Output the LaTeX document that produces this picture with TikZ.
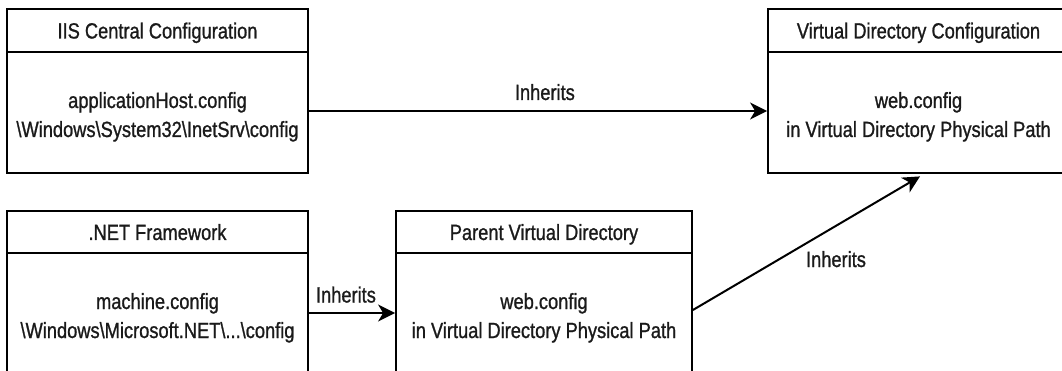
\documentclass[tikz,border=0pt]{standalone}
\usepackage{fontspec}
\setmainfont{Liberation Sans}[FakeStretch=0.83,FakeBold=1]
\usetikzlibrary{arrows.meta}
\definecolor{ink}{HTML}{1A1A1A}
\tikzset{
  head/.style={draw, line width=1.8pt, minimum height=43pt, inner sep=0pt,
    text height=16pt, text depth=0pt, text=ink, font=\fontsize{22}{29}\selectfont},
  body/.style={draw, line width=1.8pt, inner sep=0pt},
  txt/.style={anchor=base, inner sep=0pt, text=ink, font=\fontsize{22}{29}\selectfont},
  conn/.style={line width=2pt, -{Stealth[length=17pt,width=17pt,inset=5pt]}},
}
\begin{document}
\begin{tikzpicture}[x=1pt,y=-1pt]
\useasboundingbox (0,0) rectangle (1062,371);
\clip (0,0) rectangle (1062,371);
% IIS Central Configuration
\node[head, minimum width=301pt] (iish) at (157.5,30.5) {IIS Central Configuration};
\node[body, minimum width=301pt, minimum height=121pt] (iisb) at (157.5,112.5) {};
\node[txt] (iis1) at (157.5,108) {applicationHost.config};
\node[txt] (iis2) at (157.5,137) {\textbackslash Windows\textbackslash System32\textbackslash InetSrv\textbackslash config};
% Virtual Directory Configuration
\node[head, minimum width=301pt] (vdch) at (918.5,30.5) {Virtual Directory Configuration};
\node[body, minimum width=301pt, minimum height=121pt] (vdcb) at (918.5,112.5) {};
\node[txt] (vdc1) at (918.5,108) {web.config};
\node[txt] (vdc2) at (918.5,137) {in Virtual Directory Physical Path};
% .NET Framework
\node[head, minimum width=301pt, minimum height=42pt] (neth) at (157.5,232) {.NET Framework};
\node[body, minimum width=301pt, minimum height=122pt] (netb) at (157.5,314) {};
\node[txt] (net1) at (157.5,309) {machine.config};
\node[txt] (net2) at (157.5,338) {\textbackslash Windows\textbackslash Microsoft.NET\textbackslash ...\textbackslash config};
% Parent Virtual Directory
\node[head, minimum width=296pt, minimum height=42pt] (pvdh) at (544,232) {Parent Virtual Directory};
\node[body, minimum width=296pt, minimum height=122pt] (pvdb) at (544,314) {};
\node[txt] (pvd1) at (544,309) {web.config};
\node[txt] (pvd2) at (544,338) {in Virtual Directory Physical Path};
% connectors
\draw[conn] ([yshift=1.5pt]iisb.east) -- node[txt, pos=0.515, yshift=11pt] (l1) {Inherits} ([yshift=1.5pt]vdcb.west);
\draw[conn] ([yshift=1pt]netb.east) -- node[txt, pos=0.43, yshift=10.5pt] (l2) {Inherits} ([yshift=1pt]pvdb.west);
\draw[conn] ([yshift=4pt]pvdb.east) -- ([xshift=1.5pt,yshift=-2.5pt]vdcb.south);
\node[txt] (l3) at (836,267) {Inherits};
\end{tikzpicture}
\end{document}
